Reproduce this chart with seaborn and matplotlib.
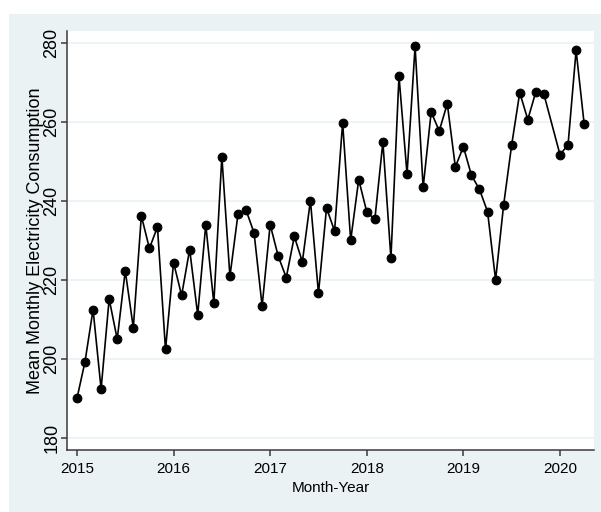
import numpy as np
import pandas as pd
import matplotlib
matplotlib.use("Agg")
import matplotlib.pyplot as plt
from matplotlib.patches import Rectangle
import seaborn as sns

# Monthly observations (December 2019 is not observed)
months = [
    "2015-01", "2015-02", "2015-03", "2015-04", "2015-05", "2015-06",
    "2015-07", "2015-08", "2015-09", "2015-10", "2015-11", "2015-12",
    "2016-01", "2016-02", "2016-03", "2016-04", "2016-05", "2016-06",
    "2016-07", "2016-08", "2016-09", "2016-10", "2016-11", "2016-12",
    "2017-01", "2017-02", "2017-03", "2017-04", "2017-05", "2017-06",
    "2017-07", "2017-08", "2017-09", "2017-10", "2017-11", "2017-12",
    "2018-01", "2018-02", "2018-03", "2018-04", "2018-05", "2018-06",
    "2018-07", "2018-08", "2018-09", "2018-10", "2018-11", "2018-12",
    "2019-01", "2019-02", "2019-03", "2019-04", "2019-05", "2019-06",
    "2019-07", "2019-08", "2019-09", "2019-10", "2019-11",
    "2020-01", "2020-02", "2020-03", "2020-04",
]
consumption = [
    190.0, 199.3, 212.5, 192.4, 215.2, 205.0,
    222.3, 207.9, 236.2, 228.0, 233.4, 202.4,
    224.4, 216.1, 227.7, 211.2, 234.0, 214.1,
    251.2, 220.9, 236.6, 237.7, 231.9, 213.4,
    234.0, 226.0, 220.6, 231.0, 224.6, 240.1,
    216.6, 238.2, 232.4, 259.8, 230.0, 245.4,
    237.2, 235.3, 254.9, 225.5, 271.6, 246.8,
    279.1, 243.4, 262.5, 257.7, 264.6, 248.6,
    253.7, 246.5, 242.9, 237.3, 220.0, 239.0,
    254.2, 267.4, 260.6, 267.6, 267.0,
    251.7, 254.2, 278.1, 259.5,
]
year_ticks = [2015, 2016, 2017, 2018, 2019, 2020]
value_ticks = [180, 200, 220, 240, 260, 280]

period = pd.PeriodIndex(months, freq="M")
df = pd.DataFrame({
    "t": period.year + (period.month - 1) / 12.0,
    "value": consumption,
})

sns.set_theme(style="white")
plt.rcParams["font.family"] = ["Liberation Sans", "DejaVu Sans"]

hsize = 11    # horizontal text
vsize = 13    # rotated text on the value axis

bg = "#EAF2F3"
axis_col = "#3a3a3a"

fig = plt.figure(figsize=(6.01, 5.12), dpi=100)
fig.patch.set_facecolor("white")
fig.add_artist(Rectangle((9 / 601, 0), 1, 1 - 14 / 512,
                         transform=fig.transFigure, facecolor=bg,
                         edgecolor="none", zorder=-10))

ax = fig.add_axes([67 / 601, 1 - 450 / 512, (594 - 67) / 601, (450 - 31) / 512])
ax.set_zorder(1)
ax.set_facecolor("white")

for v in value_ticks:
    ax.axhline(v, color=bg, linewidth=1.2, zorder=0.5)

sns.lineplot(data=df, x="t", y="value", sort=False, estimator=None,
             color="black", linewidth=1.2, marker="o", markersize=6.3,
             markeredgecolor="black", markerfacecolor="black", ax=ax, zorder=3)

ax.set_xlim(2014.897, 2020.352)
ax.set_ylim(176.96, 283.0)
ax.set_xticks(year_ticks)
ax.set_xticklabels([str(y) for y in year_ticks], fontsize=hsize)
ax.set_yticks(value_ticks)
ax.set_yticklabels([str(v) for v in value_ticks], rotation=90, va="center",
                   fontsize=vsize)

for side in ("top", "right"):
    ax.spines[side].set_visible(False)
for side in ("left", "bottom"):
    ax.spines[side].set_color(axis_col)
    ax.spines[side].set_linewidth(1.1)

ax.tick_params(axis="both", direction="out", length=4.3, width=1.1,
               color=axis_col, labelcolor="black", left=True, bottom=True)
ax.tick_params(axis="x", pad=4.5)
ax.tick_params(axis="y", pad=0.5)

ax.set_xlabel("Month-Year", fontsize=hsize, color="black")
ax.set_ylabel("Mean Monthly Electricity Consumption", fontsize=vsize,
              color="black")
ax.xaxis.set_label_coords(0.5, -0.075)
ax.yaxis.set_label_coords(-0.0436, 0.5)

fig.savefig("out.png", dpi=100, facecolor=fig.get_facecolor())
